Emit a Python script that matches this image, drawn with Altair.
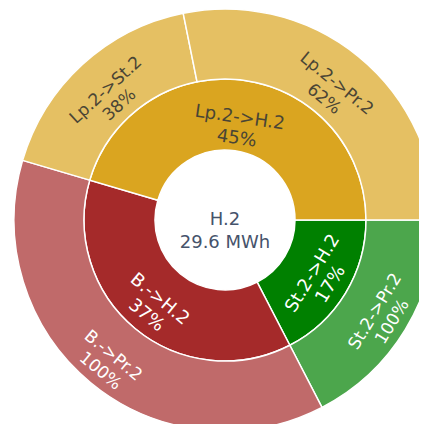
import math
import altair as alt
import pandas as pd

# ---- data ----
center_name = "H.2"
center_total = "29.6 MWh"

inner_names = ["St.2->H.2", "B.->H.2", "Lp.2->H.2"]
inner_values = [5.15, 11.0, 13.45]          # MWh
inner_pct = ["17%", "37%", "45%"]

outer_names = ["St.2->Pr.2", "B.->Pr.2", "Lp.2->St.2", "Lp.2->Pr.2"]
outer_values = [5.15, 11.0, 5.11, 8.34]     # MWh
outer_pct = ["100%", "100%", "38%", "62%"]

# ---- styles ----
inner_colors = ["#008000", "#a52a2a", "#daa520"]
outer_colors = ["#4ca64c", "#c06a6a", "#e5c063", "#e5c063"]
inner_text_colors = ["#ffffff", "#ffffff", "#4a4535"]
outer_text_colors = ["#ffffff", "#ffffff", "#4a4535", "#4a4535"]
CENTER_COLOR = "#46536b"
FONT = "DejaVu Sans"

W, H = 411, 416
CX, CY = 217, 212
R0, R1, R2 = 70, 141, 211

inner_df = pd.DataFrame({
    "name": inner_names,
    "value": inner_values,
    "label": [f"{n}\n{p}" for n, p in zip(inner_names, inner_pct)],
    "ord": list(range(len(inner_names))),
})
outer_df = pd.DataFrame({
    "name": outer_names,
    "value": outer_values,
    "label": [f"{n}\n{p}" for n, p in zip(outer_names, outer_pct)],
    "ord": list(range(len(outer_names))),
})
center_df = pd.DataFrame({"label": [f"{center_name}\n{center_total}"]})

theta_scale = alt.Scale(range=[math.pi / 2, math.pi / 2 + 2 * math.pi])


def ring(df, names, colors, r_in, r_out):
    return alt.Chart(df).mark_arc(
        innerRadius=r_in, outerRadius=r_out, stroke="white", strokeWidth=1.5
    ).encode(
        theta=alt.Theta("value:Q", stack=True, scale=theta_scale),
        order=alt.Order("ord:Q"),
        color=alt.Color("name:N", scale=alt.Scale(domain=names, range=colors), legend=None),
        x=alt.value(CX),
        y=alt.value(CY),
    )


def labels(df, names, tcolors, r, size):
    return alt.Chart(df).transform_joinaggregate(
        total="sum(value)"
    ).transform_window(
        cum="sum(value)", sort=[alt.SortField("ord")], frame=[None, 0]
    ).transform_calculate(
        t="90 + (datum.cum - datum.value / 2) / datum.total * 360"
    ).transform_calculate(
        ang="((((datum.t + 90) % 180) + 180) % 180 + 270) % 360"
    ).mark_text(
        radius=r, fontSize=size, font=FONT, lineBreak="\n", align="center",
        baseline="middle", lineHeight=size + 3,
    ).encode(
        theta=alt.Theta("value:Q", stack=True, scale=theta_scale),
        order=alt.Order("ord:Q"),
        text="label:N",
        angle=alt.Angle("ang:Q", scale=None),
        color=alt.Color("name:N", scale=alt.Scale(domain=names, range=tcolors), legend=None),
        x=alt.value(CX),
        y=alt.value(CY),
    )


center = alt.Chart(center_df).mark_text(
    fontSize=18, font=FONT, lineBreak="\n", align="center", baseline="middle",
    lineHeight=23, color=CENTER_COLOR,
).encode(text="label:N", x=alt.value(CX), y=alt.value(CY))

chart = alt.layer(
    ring(inner_df, inner_names, inner_colors, R0, R1),
    ring(outer_df, outer_names, outer_colors, R1, R2),
    labels(inner_df, inner_names, inner_text_colors, 103, 18),
    labels(outer_df, outer_names, outer_text_colors, 176, 17),
    center,
).resolve_scale(color="independent", theta="shared").properties(
    width=W, height=H, padding=0, autosize=alt.AutoSizeParams(type="none")
).configure_view(stroke=None)

chart.save("out.html", embed_options={"renderer": "svg", "actions": False})
